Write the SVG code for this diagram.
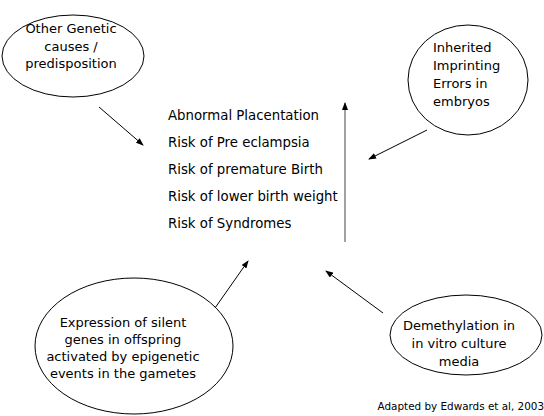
<svg xmlns="http://www.w3.org/2000/svg" width="544" height="416" viewBox="0 0 544 416">
<defs>
<marker id="ah" markerWidth="8" markerHeight="6" refX="7" refY="3" orient="auto" markerUnits="userSpaceOnUse">
<path d="M0,0 L8,3 L0,6 Z" fill="#000"/>
</marker>
<style>
.n{fill:#fff;stroke:#000;stroke-width:1}
.t{font-family:"DejaVu Sans",Verdana,sans-serif;font-size:13px;fill:#000}
.l{font-size:13.3px}
.c{text-anchor:middle}
.e{stroke:#000;stroke-width:1;fill:none;marker-end:url(#ah)}
</style>
</defs>
<rect width="544" height="416" fill="#fff"/>
<g id="node-genetic">
<ellipse class="n" cx="73" cy="56" rx="71" ry="41"/>
<text class="t c" x="71" y="33">Other Genetic</text>
<text class="t c" x="71" y="51">causes /</text>
<text class="t c" x="71" y="68">predisposition</text>
</g>
<g id="node-imprinting">
<ellipse class="n" cx="468" cy="80" rx="60" ry="55"/>
<text class="t" x="433" y="52">Inherited</text>
<text class="t" x="433" y="70">Imprinting</text>
<text class="t" x="433" y="88">Errors in</text>
<text class="t" x="433" y="106">embryos</text>
</g>
<g id="node-outcomes">
<text class="t l" x="168" y="120">Abnormal Placentation</text>
<text class="t l" x="168" y="147">Risk of Pre eclampsia</text>
<text class="t l" x="168" y="174">Risk of premature Birth</text>
<text class="t l" x="168" y="201">Risk of lower birth weight</text>
<text class="t l" x="168" y="228">Risk of Syndromes</text>
</g>
<g id="node-expression">
<ellipse class="n" cx="134" cy="346" rx="99" ry="68"/>
<text class="t c" x="123" y="327">Expression of silent</text>
<text class="t c" x="123" y="344">genes in offspring</text>
<text class="t c" x="123" y="361">activated by epigenetic</text>
<text class="t c" x="123" y="378">events in the gametes</text>
</g>
<g id="node-demethylation">
<ellipse class="n" cx="466" cy="335" rx="76" ry="40"/>
<text class="t c" x="459" y="330">Demethylation in</text>
<text class="t c" x="459" y="348">in vitro culture</text>
<text class="t c" x="459" y="366">media</text>
</g>
<g id="connectors">
<line class="e" x1="99" y1="107" x2="143" y2="145"/>
<line class="e" x1="427" y1="130" x2="369" y2="159"/>
<line class="e" x1="215" y1="308" x2="248" y2="261"/>
<line class="e" x1="383" y1="313" x2="326" y2="271"/>
<line class="e" x1="345" y1="242" x2="345" y2="103" style="stroke:#444"/>
</g>
<text id="credit" x="544" y="410" text-anchor="end" style="font-family:'DejaVu Sans',Verdana,sans-serif;font-size:10.4px;fill:#000">Adapted by Edwards et al, 2003</text>
</svg>
